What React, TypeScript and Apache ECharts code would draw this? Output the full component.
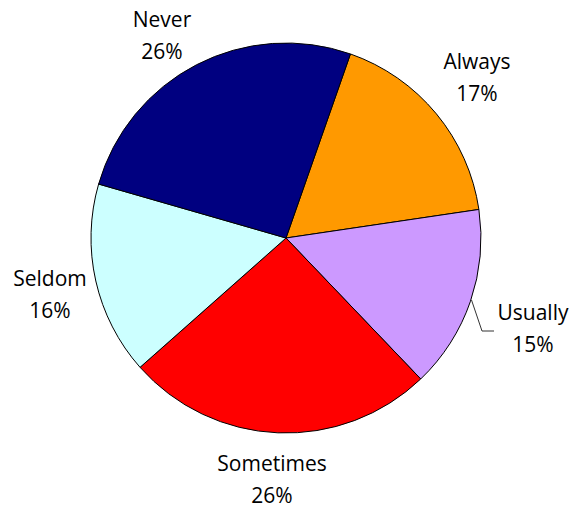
import React, { useEffect, useRef } from "react";
import * as echarts from "echarts";

const categories = ["Always", "Usually", "Sometimes", "Seldom", "Never"];
const values = [17.3, 15.2, 25.6, 16.0, 25.9];
const colors = ["#FF9900", "#CC99FF", "#FF0000", "#CCFFFF", "#000080"];

export default function App() {
  const ref = useRef<HTMLDivElement>(null);
  useEffect(() => {
    document.body.style.margin = "0";
    const chart = echarts.init(ref.current!, undefined, { renderer: "svg" });
    // label block centres (layout only)
    const labelPos: Record<string, [number, number]> = {
      Always: [477, 77],
      Usually: [533, 328],
      Sometimes: [272, 479],
      Seldom: [50, 294],
      Never: [162, 35],
    };
    chart.setOption({
      animation: false,
      backgroundColor: "#fff",
      series: [
        {
          type: "pie",
          center: [286, 238],
          radius: 195,
          startAngle: 70.7,
          clockwise: true,
          avoidLabelOverlap: false,
          itemStyle: { borderColor: "#000", borderWidth: 1 },
          label: {
            show: true,
            position: "outside",
            formatter: (p: any) => `{a|${p.name}}\n{a|${Math.round(p.percent)}%}`,
            rich: {
              a: {
                fontFamily: "Open Sans",
                fontSize: 21,
                lineHeight: 32,
                color: "#000",
                align: "center",
              },
            },
          },
          labelLine: { show: false },
          labelLayout: (params: any) => {
            const name = categories[params.dataIndex];
            const [x, y] = labelPos[name];
            const out: any = { x, y, align: "center", verticalAlign: "middle" };
            if (name === "Usually") {
              out.labelLinePoints = [
                [471.5, 300],
                [482, 331],
                [494, 331],
              ];
            }
            return out;
          },
          data: categories.map((c, i) => ({
            name: c,
            value: values[i],
            itemStyle: { color: colors[i] },
            labelLine:
              c === "Usually"
                ? { show: true, length: 30, length2: 12, lineStyle: { color: "#333", width: 1 } }
                : { show: false },
          })),
        },
      ],
    });
    return () => chart.dispose();
  }, []);
  return <div ref={ref} style={{ width: 574, height: 508 }} />;
}
